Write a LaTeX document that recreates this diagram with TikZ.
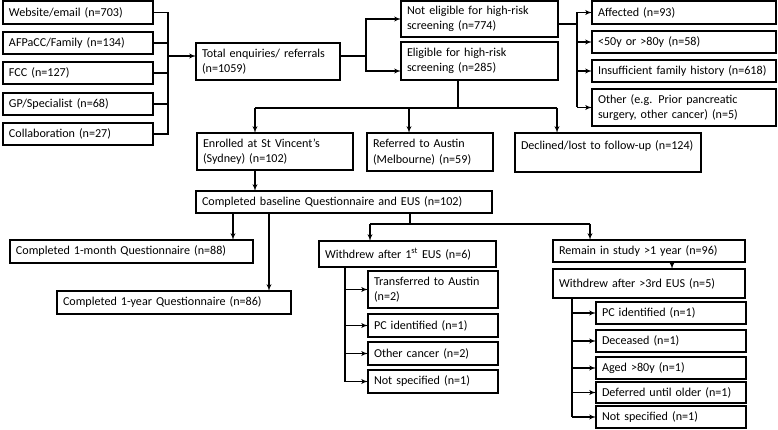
\documentclass[tikz,border=0pt]{standalone}
\usepackage{fontspec}
\setmainfont{Carlito}
\usetikzlibrary{arrows}
\tikzstyle{box} = [rectangle, draw, line width=1.3pt, anchor=north west, align=left,
    inner xsep=6pt, inner ysep=0pt, outer sep=0pt, font=\fontsize{12.1}{15.5}\selectfont]
\tikzstyle{line} = [draw, line width=1.3pt, -latex']
\tikzstyle{link} = [draw, line width=1.3pt]

\begin{document}
\begin{tikzpicture}[x=1pt, y=-1pt]
        \useasboundingbox (0,0) rectangle (778,430);

        % Place nodes
        \node [box, text width=138pt, minimum height=23pt] (web) at (3,1) {Website/email (n=703)};
        \node [box, text width=138pt, minimum height=22pt] (afp) at (3,32) {AFPaCC/Family (n=134)};
        \node [box, text width=138pt, minimum height=22pt] (fcc) at (3,62) {FCC (n=127)};
        \node [box, text width=138pt, minimum height=22pt] (gp) at (3,93) {GP/Specialist (n=68)};
        \node [box, text width=138pt, minimum height=22pt] (collab) at (3,123) {Collaboration (n=27)};
        \node [box, text width=132pt, minimum height=37pt] (total) at (196,43) {Total enquiries/ referrals\\(n=1059)};
        \node [box, text width=145pt, minimum height=36pt] (noteli) at (401,1) {Not eligible for high-risk\\screening (n=774)};
        \node [box, text width=145pt, minimum height=38pt] (eli) at (401,42) {Eligible for high-risk\\screening (n=285)};
        \node [box, text width=172pt, minimum height=23pt] (affected) at (592,1) {Affected (n=93)};
        \node [box, text width=172pt, minimum height=22pt] (age) at (592,31) {<50y or >80y (n=58)};
        \node [box, text width=172pt, minimum height=22pt] (insuff) at (592,60) {Insufficient family history (n=618)};
        \node [box, text width=172pt, minimum height=37pt] (other) at (592,89) {Other (e.g. Prior pancreatic\\surgery, other cancer) (n=5)};
        \node [box, text width=144pt, minimum height=37pt] (enrolled) at (197,133) {Enrolled at St Vincent’s\\(Sydney) (n=102)};
        \node [box, text width=114pt, minimum height=38pt] (austin) at (367,133) {Referred to Austin\\(Melbourne) (n=59)};
        \node [box, text width=174pt, minimum height=39pt] (declined) at (515,133) {Declined/lost to follow-up (n=124)\\\mbox{}};
        \node [box, text width=284pt, minimum height=22pt] (baseline) at (196,191) {Completed baseline Questionnaire and EUS (n=102)};
        \node [box, text width=231pt, minimum height=23pt] (month) at (10,240) {Completed 1-month Questionnaire (n=88)};
        \node [box, text width=222pt, minimum height=23pt] (year) at (57,291) {Completed 1-year Questionnaire (n=86)};
        \node [box, text width=165pt, minimum height=26pt] (wdfirst) at (319,241) {Withdrew after 1\textsuperscript{st} EUS (n=6)};
        \node [box, text width=118pt, minimum height=37pt] (transf) at (368,271) {Transferred to Austin\\(n=2)};
        \node [box, text width=118pt, minimum height=23pt] (pcfirst) at (368,314) {PC identified (n=1)};
        \node [box, text width=118pt, minimum height=23pt] (othfirst) at (368,342) {Other cancer (n=2)};
        \node [box, text width=118pt, minimum height=23pt] (nsfirst) at (368,370) {Not specified (n=1)};
        \node [box, text width=180pt, minimum height=22pt] (remain) at (553,240) {Remain in study >1 year (n=96)};
        \node [box, text width=180pt, minimum height=29pt] (wdthird) at (553,269) {Withdrew after >3rd EUS (n=5)};
        \node [box, text width=138pt, minimum height=22pt] (pcthird) at (596,302) {PC identified (n=1)};
        \node [box, text width=138pt, minimum height=22pt] (deceased) at (596,330) {Deceased (n=1)};
        \node [box, text width=138pt, minimum height=22pt] (aged) at (596,357) {Aged >80y (n=1)};
        \node [box, text width=138pt, minimum height=21pt] (deferred) at (596,382) {Deferred until older (n=1)};
        \node [box, text width=138pt, minimum height=22pt] (nsthird) at (596,406) {Not specified (n=1)};

        % Bus points
        \coordinate (srcbus) at (168,56);
        \coordinate (elibus) at (366,56);
        \coordinate (elibot) at (366,71);
        \coordinate (exbus) at (577,24);
        \coordinate (elisplit) at (458,108);
        \coordinate (toenrol) at (255,108);
        \coordinate (toaustin) at (409,108);
        \coordinate (todecl) at (557,108);
        \coordinate (tomonth) at (233,213);
        \coordinate (toyear) at (269,213);
        \coordinate (wdsplit) at (410,224);
        \coordinate (towdfirst) at (370,224);
        \coordinate (toremain) at (590,224);
        \coordinate (towdthird) at (672,262);
        \coordinate (firstbus) at (345,267);
        \coordinate (thirdbus) at (572,298);

        % Draw edges
        \path [link] (web.east) -- (web.east -| srcbus) -- (collab.east -| srcbus) -- (collab.east);
        \foreach \n in {afp,fcc,gp}
            \path [link] (\n.east) -- (\n.east -| srcbus);
        \path [line] (srcbus) -- (srcbus -| total.west);

        \path [link] (elibus -| total.east) -- (elibus);
        \path [line] (elibus) |- (noteli.west);
        \path [line] (elibus) -- (elibot) -- (elibot -| eli.west);

        \path [link] (exbus -| noteli.east) -- (exbus);
        \path [link] (affected.west -| exbus) -- (other.west -| exbus);
        \foreach \n in {affected,age,insuff,other}
            \path [line] (\n.west -| exbus) -- (\n.west);

        \path [link] (elisplit |- eli.south) -- (elisplit);
        \path [link] (toenrol) -- (todecl);
        \path [line] (toenrol) -- (toenrol |- enrolled.north);
        \path [line] (toaustin) -- (toaustin |- austin.north);
        \path [line] (todecl) -- (todecl |- declined.north);

        \path [line] (toenrol |- enrolled.south) -- (toenrol |- baseline.north);
        \path [line] (tomonth |- baseline.south) -- (tomonth |- month.north);
        \path [line] (toyear |- baseline.south) -- (toyear |- year.north);
        \path [link] (wdsplit |- baseline.south) -- (wdsplit);
        \path [link] (towdfirst) -- (toremain);
        \path [line] (towdfirst) -- (towdfirst |- wdfirst.north);
        \path [line] (toremain) -- (toremain |- remain.north);
        \path [line] (towdthird |- remain.south) -- (towdthird |- wdthird.north);

        \path [link] (firstbus |- wdfirst.south) -- (firstbus |- nsfirst.west);
        \foreach \n in {transf,pcfirst,othfirst,nsfirst}
            \path [line] (\n.west -| firstbus) -- (\n.west);
        \path [link] (thirdbus |- wdthird.south) -- (thirdbus |- nsthird.west);
        \foreach \n in {pcthird,deceased,aged,deferred,nsthird}
            \path [line] (\n.west -| thirdbus) -- (\n.west);

\end{tikzpicture}
\end{document}
